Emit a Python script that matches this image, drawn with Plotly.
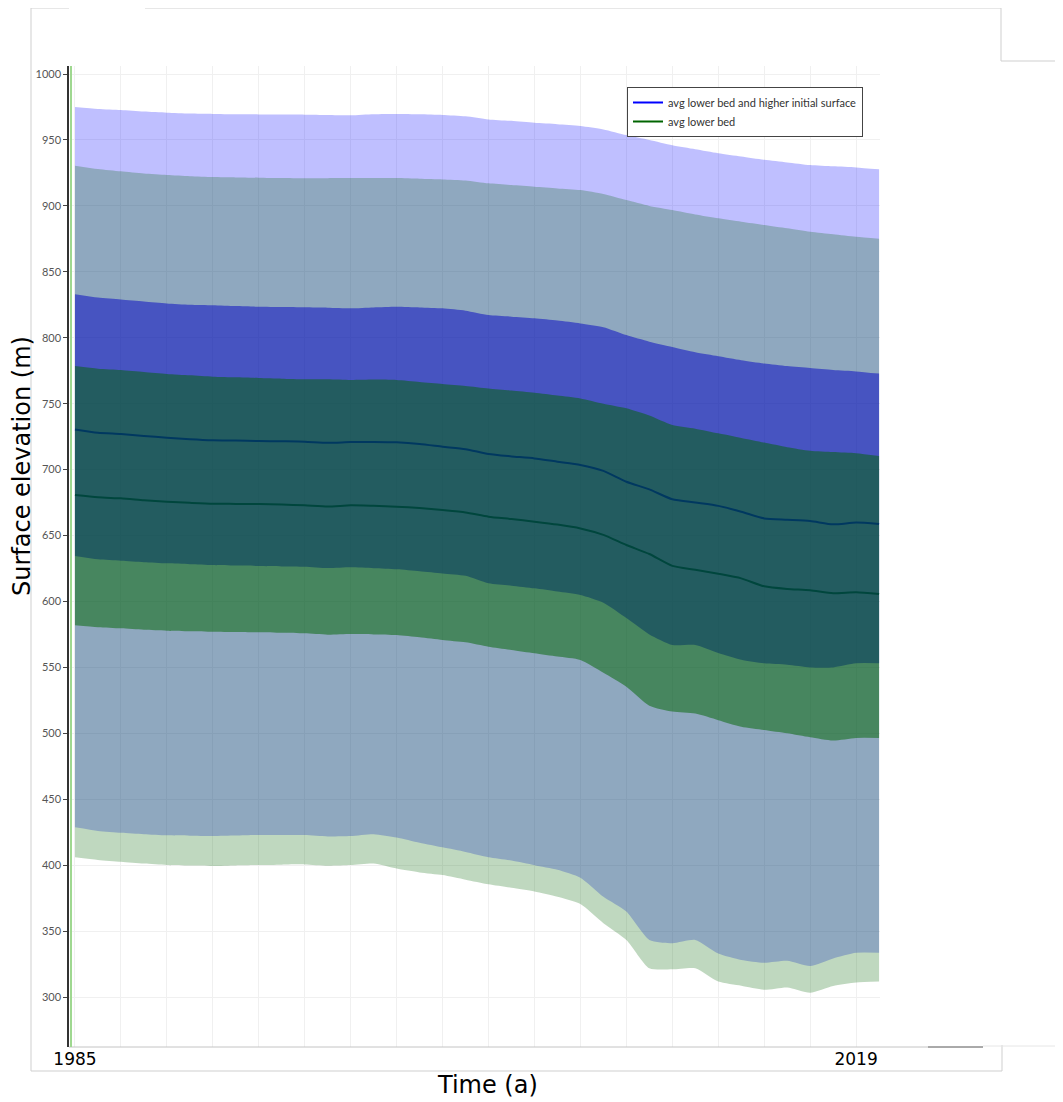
import plotly.graph_objects as go

# yearly samples
years = list(range(1985, 2021))

# "avg lower bed and higher initial surface" (blue)
blue_max = [975.0, 973.5, 972.7, 971.5, 970.7, 970.0, 969.7, 969.5, 969.4, 969.3,
            969.2, 969.0, 968.7, 969.5, 969.7, 969.5, 969.0, 968.0, 965.6, 964.5,
            963.0, 962.0, 960.6, 958.0, 953.7, 950.0, 946.0, 943.0, 940.0, 937.5,
            935.0, 933.0, 931.0, 930.0, 929.2, 927.7]
blue_hi = [833.0, 830.5, 829.0, 827.5, 826.0, 825.0, 824.6, 824.0, 823.5, 823.3,
           823.1, 822.8, 822.3, 823.0, 823.5, 823.0, 822.3, 820.5, 817.2, 816.0,
           814.7, 813.0, 810.9, 808.0, 802.0, 797.0, 793.0, 789.0, 786.0, 783.0,
           780.5, 778.5, 777.0, 775.5, 774.5, 772.8]
blue_avg = [730.5, 728.0, 727.0, 725.5, 724.2, 723.0, 722.2, 722.0, 721.7, 721.5,
            721.2, 720.3, 720.9, 721.0, 720.7, 719.5, 717.4, 715.5, 711.8, 710.0,
            708.5, 706.0, 703.5, 699.0, 690.8, 685.0, 677.5, 675.0, 672.5, 668.1,
            663.0, 662.0, 661.0, 658.5, 659.8, 658.7]
blue_lo = [634.5, 632.0, 630.9, 629.8, 628.9, 628.2, 627.6, 627.2, 626.9, 626.6,
           626.4, 625.3, 625.9, 625.2, 624.4, 623.0, 621.3, 619.5, 613.8, 612.0,
           610.0, 607.5, 604.9, 599.0, 587.4, 575.0, 567.0, 567.0, 561.0, 555.8,
           553.1, 552.0, 550.0, 550.0, 553.1, 553.1]
blue_min = [428.7, 426.0, 424.6, 423.5, 422.6, 422.3, 422.1, 422.5, 422.9, 422.9,
            422.9, 421.8, 422.1, 423.5, 421.0, 417.0, 413.5, 410.0, 406.0, 403.5,
            400.0, 396.5, 390.5, 376.0, 364.8, 343.3, 340.8, 343.3, 333.0, 328.1,
            326.0, 327.5, 323.5, 329.3, 333.6, 333.6]

# "avg lower bed" (green)
green_max = [930.5, 928.0, 926.2, 924.5, 923.4, 922.5, 921.9, 921.6, 921.4, 921.1,
             920.9, 921.0, 921.1, 921.2, 921.1, 920.6, 920.1, 919.3, 917.1, 915.8,
             914.5, 913.2, 912.0, 909.0, 904.4, 900.0, 896.9, 893.5, 890.6, 888.0,
             885.5, 883.0, 880.4, 878.5, 876.6, 875.1]
green_hi = [778.5, 776.5, 775.5, 774.0, 772.5, 771.5, 770.5, 770.0, 769.5, 769.0,
            768.5, 768.5, 768.0, 768.3, 768.0, 766.5, 765.0, 763.5, 761.6, 760.0,
            758.3, 756.2, 754.0, 750.0, 746.5, 741.0, 733.8, 731.0, 727.5, 724.0,
            720.5, 717.0, 714.3, 713.3, 712.4, 710.3]
green_avg = [680.7, 679.0, 678.2, 676.8, 675.6, 674.8, 674.1, 674.0, 673.9, 673.5,
             672.9, 672.0, 672.9, 672.5, 671.9, 670.8, 669.3, 667.5, 664.3, 662.5,
             660.5, 658.3, 655.4, 650.5, 642.8, 636.0, 627.0, 624.0, 621.0, 617.5,
             611.5, 609.5, 608.5, 606.2, 606.9, 605.6]
green_lo = [582.0, 580.5, 579.6, 578.5, 577.8, 577.4, 577.0, 576.8, 576.6, 576.2,
            575.8, 574.8, 575.3, 575.0, 574.5, 572.8, 570.8, 569.0, 565.7, 563.2,
            560.7, 558.2, 555.6, 546.0, 535.4, 521.0, 516.5, 515.0, 510.0, 505.0,
            502.5, 500.0, 497.0, 494.5, 496.5, 496.5]
green_min = [406.0, 404.0, 402.6, 401.2, 400.1, 399.7, 399.4, 399.8, 400.1, 400.4,
             400.6, 399.6, 400.1, 401.2, 397.4, 394.5, 392.5, 389.0, 385.5, 382.8,
             380.0, 376.0, 370.5, 356.0, 343.3, 321.8, 321.0, 321.8, 311.7, 308.5,
             305.5, 307.3, 303.3, 308.4, 311.0, 311.7]

y_ticks = list(range(300, 1001, 50))
x_ticks = years[::2]
x_labels = ["1985"] + [""] * (len(x_ticks) - 2) + ["2019"]

fig = go.Figure()

# mean lines first so the bands sit on top of them (as in the original)
fig.add_trace(go.Scatter(x=years, y=blue_avg, mode="lines",
                         line=dict(color="rgb(0,0,255)", width=2,
                                   shape="spline", smoothing=0.6),
                         name="avg lower bed and higher initial surface"))
fig.add_trace(go.Scatter(x=years, y=green_avg, mode="lines",
                         line=dict(color="rgb(0,100,0)", width=2,
                                   shape="spline", smoothing=0.6),
                         name="avg lower bed"))


def band(lo, hi, color):
    fig.add_trace(go.Scatter(x=years, y=lo, mode="lines",
                             line=dict(width=0, shape="spline", smoothing=0.6),
                             showlegend=False, hoverinfo="skip"))
    fig.add_trace(go.Scatter(x=years, y=hi, mode="lines",
                             line=dict(width=0, shape="spline", smoothing=0.6),
                             fill="tonexty", fillcolor=color,
                             showlegend=False, hoverinfo="skip"))


band(blue_min, blue_max, "rgba(0,0,255,0.25)")
band(green_min, green_max, "rgba(0,100,0,0.25)")
band(blue_lo, blue_hi, "rgba(0,0,195,0.5)")
band(green_lo, green_hi, "rgba(0,100,0,0.5)")

# the page body adds an 8px margin, so work in page pixels and shift
OFF = 8
W, H = 1063 - OFF, 1102 - OFF
L, R, T, B = 69, 880, 66, 1047


def px(x):
    return (x - L) / (R - L)


def py(y):
    return (B - y) / (B - T)


frame = "#cfcfcf"
segs = [
    (31, 8, 69, 8, frame), (145, 8, 1001, 8, frame),
    (31, 8, 31, 1071, frame), (31, 1071, 1002, 1071, frame),
    (1001, 8, 1001, 61, frame), (1001, 61, 1063, 61, frame),
    (1002, 1045, 1002, 1071, frame),
    (69, 1047, 928, 1047, "#c4c4c4"), (928, 1047, 983, 1047, "#555555"),
    (983, 1046, 1063, 1046, "#e6e6e6"),
    (71, 66, 71, 1047, "#9fd890"),
]
shapes = [dict(type="line", xref="paper", yref="paper",
               x0=px(a), y0=py(b), x1=px(c), y1=py(d),
               line=dict(color=col, width=2 if col == "#9fd890" else 1))
          for a, b, c, d, col in segs]

fig.update_layout(
    width=W, height=H,
    margin=dict(l=L - OFF, r=1063 - R, t=T - OFF, b=1102 - B),
    paper_bgcolor="white", plot_bgcolor="white",
    shapes=shapes,
    showlegend=True,
    legend=dict(x=px(627), y=py(87), xanchor="left", yanchor="top",
                traceorder="normal",
                bgcolor="white", bordercolor="#444", borderwidth=1,
                font=dict(family="Lato", size=11, color="#333"),
                tracegroupgap=0),
    xaxis=dict(range=[1984.74, 2020.04], tickvals=x_ticks, ticktext=x_labels,
               showgrid=True, gridcolor="#f0f0f0", gridwidth=1,
               showline=False, zeroline=False, ticks="",
               tickfont=dict(family="DejaVu Sans", size=17, color="black")),
    yaxis=dict(range=[262.1, 1006.1], tickvals=y_ticks,
               showgrid=True, gridcolor="#f0f0f0", gridwidth=1,
               showline=True, linecolor="#333", linewidth=1.5,
               ticks="outside", ticklen=4, tickcolor="#444",
               zeroline=False,
               tickfont=dict(family="Lato", size=11, color="#555")),
    annotations=[
        dict(text="Surface elevation (m)", textangle=-90, showarrow=False,
             xref="paper", yref="paper", x=px(22), y=py(466),
             xanchor="center", yanchor="middle",
             font=dict(family="DejaVu Sans", size=24, color="black")),
        dict(text="Time (a)", showarrow=False,
             xref="paper", yref="paper", x=px(487), y=py(1085),
             xanchor="center", yanchor="middle",
             font=dict(family="DejaVu Sans", size=24, color="black")),
    ],
)

fig.write_html("out.html")
